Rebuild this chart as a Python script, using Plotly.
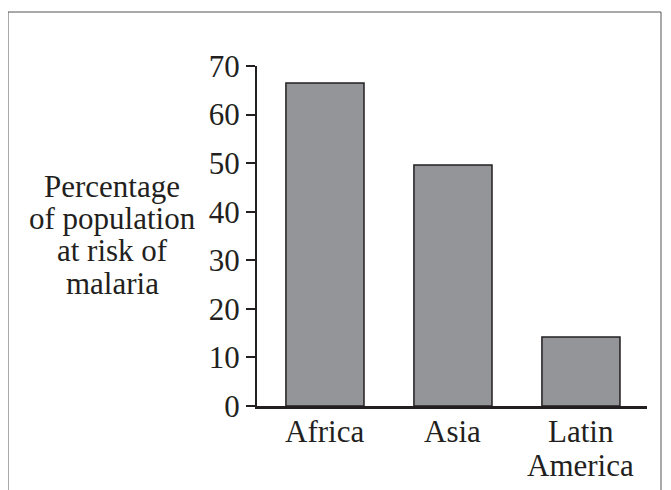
import plotly.graph_objects as go

regions = ["Africa", "Asia", "Latin<br>America"]
percent_at_risk = [66.5, 49.6, 14.2]
y_ticks = [0, 10, 20, 30, 40, 50, 60, 70]
y_title_lines = ["Percentage", "of population", "at risk of", "malaria"]

OFF = 8  # page body margin
W, H = 671 - OFF, 490 - OFF
L, R, T, B = 257 - OFF, 671 - 647, 66 - OFF, 490 - 406
pw, ph = W - L - R, H - T - B

def px_x(x):  # screen px -> paper x
    return (x - OFF - L) / pw

def px_y(y):  # screen px -> paper y
    return (H - B - (y - OFF)) / ph

xs = list(range(len(regions)))

fig = go.Figure(go.Bar(
    x=xs, y=percent_at_risk,
    width=0.61,
    marker=dict(color="#939598", line=dict(color="#231f20", width=1.5)),
))

font = dict(family="Liberation Serif, Times New Roman, serif", size=31, color="#231f20")

annotations = []
# y-axis title, one annotation per line for tight line spacing
title_centers = [186, 218, 250, 283]
for line, cy in zip(y_title_lines, title_centers):
    annotations.append(dict(
        text=line, xref="paper", yref="paper",
        x=px_x(112), y=px_y(cy), xanchor="center", yanchor="middle",
        showarrow=False, font=font,
    ))
# category labels (tight line spacing), placed at data x positions
label_line_centers = [431, 465]
for xi, label in zip(xs, regions):
    for part, cy in zip(label.split("<br>"), label_line_centers):
        annotations.append(dict(
            text=part, xref="x", yref="paper",
            x=xi, y=px_y(cy), xanchor="center", yanchor="middle",
            showarrow=False, font=font,
        ))

fig.update_layout(
    width=W, height=H,
    margin=dict(l=L, r=R, t=T, b=B, pad=0, autoexpand=False),
    paper_bgcolor="white", plot_bgcolor="white",
    showlegend=False,
    font=font,
    xaxis=dict(
        range=[-0.531, 2.516], automargin=False,
        tickmode="array", tickvals=xs, ticktext=regions, showticklabels=False,
        showgrid=False, zeroline=False,
        showline=True, linecolor="#231f20", linewidth=2.5,
        ticks="", tickfont=font,
    ),
    yaxis=dict(
        range=[0, 70], automargin=False,
        tickmode="array", tickvals=y_ticks,
        showgrid=False, zeroline=False,
        showline=True, linecolor="#231f20", linewidth=2,
        ticks="outside", ticklen=9, tickwidth=1.5, tickcolor="#231f20",
        tickfont=font,
    ),
    annotations=annotations,
    shapes=[dict(
        type="rect", xref="paper", yref="paper",
        x0=px_x(8), x1=px_x(661),
        y0=px_y(520), y1=px_y(12),
        line=dict(color="#555555", width=1),
        fillcolor="rgba(0,0,0,0)", layer="below",
    )],
)

fig.write_html("out.html")
